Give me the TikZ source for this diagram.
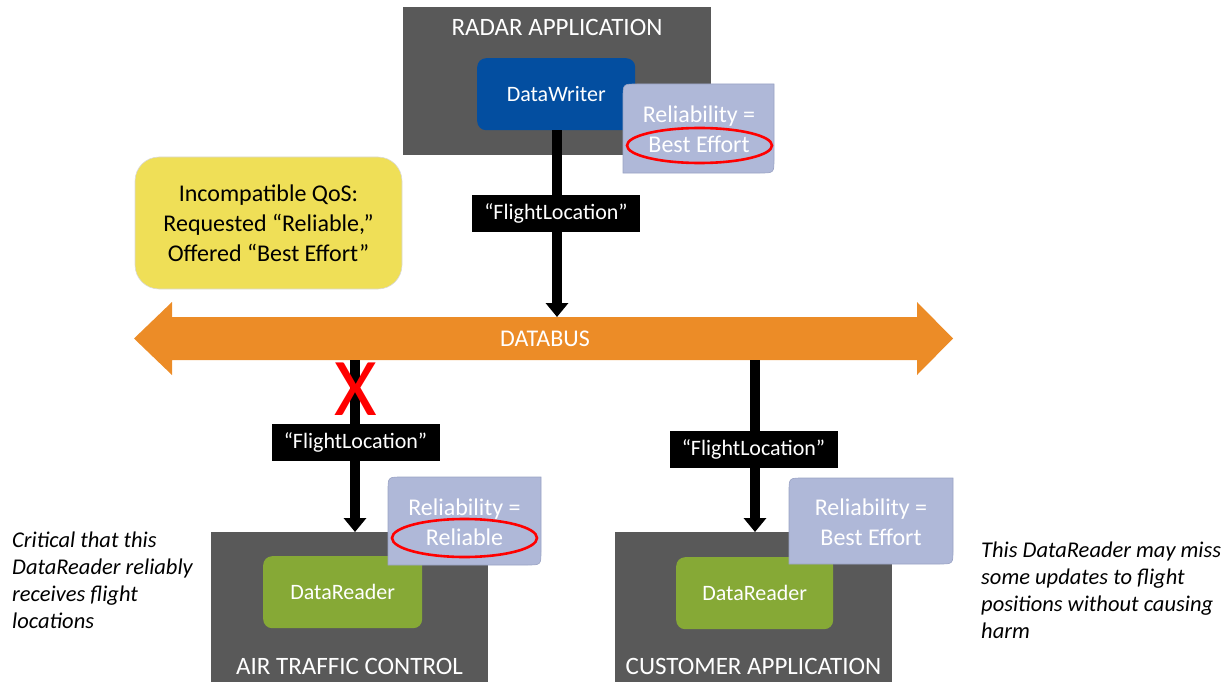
\documentclass[tikz,border=0pt]{standalone}
\usepackage{fontspec}
\setmainfont{Carlito}
\usetikzlibrary{arrows.meta,shapes.geometric}
\definecolor{panelgray}{HTML}{595959}
\definecolor{dwblue}{HTML}{034EA0}
\definecolor{relblue}{HTML}{AFB8D8}
\definecolor{relline}{HTML}{9AA3C4}
\definecolor{drgreen}{HTML}{86A936}
\definecolor{busorange}{HTML}{EC8C27}
\definecolor{noteyellow}{HTML}{EFDF57}
\definecolor{markred}{HTML}{FF0000}
\begin{document}
\begin{tikzpicture}[x=1pt,y=-1pt,
  panel/.style={fill=panelgray, draw=none, anchor=north west, inner sep=0pt},
  paneltitle/.style={text=white, inner sep=0pt, font=\fontsize{25}{29}\selectfont},
  endpoint/.style={rounded corners=9pt, draw=none, inner sep=0pt, text=white,
                   font=\fontsize{22}{26}\selectfont, anchor=north west},
  relbox/.style={fill=relblue, draw=relline, line width=0.6pt},
  reltext/.style={text=white, align=center, inner sep=0pt, font=\fontsize{24}{30}\selectfont},
  oval/.style={ellipse, draw=markred, line width=2.6pt, inner sep=0pt},
  topic/.style={fill=black, text=white, inner sep=0pt, minimum width=168pt,
                minimum height=37pt, font=\fontsize{22}{26}\selectfont},
  flow/.style={draw=black, line width=10pt, -{Triangle[width=22pt,length=14pt]}},
  note/.style={align=left, inner sep=0pt, anchor=north west,
               font=\fontsize{22.5}{27}\selectfont\itshape}
]
\useasboundingbox (0,0) rectangle (1226,682);

% ---------- panels ----------
\node[panel, minimum width=308pt, minimum height=148pt] (radar) at (403,7) {};
\node[paneltitle] (radart) at (557,27.5) {RADAR APPLICATION};
\node[panel, minimum width=277pt, minimum height=150pt] (atc) at (211,532) {};
\node[paneltitle] (atct) at (349.5,666.5) {AIR TRAFFIC CONTROL};
\node[panel, minimum width=277pt, minimum height=150pt] (cust) at (615,532) {};
\node[paneltitle] (custt) at (753.5,666.5) {CUSTOMER APPLICATION};

% ---------- endpoints ----------
\node[endpoint, fill=dwblue, minimum width=158pt, minimum height=72pt] (dw) at (477,58) {DataWriter};
\node[endpoint, fill=drgreen, minimum width=159pt, minimum height=72pt] (dr1) at (263,556) {DataReader};
\node[endpoint, fill=drgreen, minimum width=157pt, minimum height=72pt] (dr2) at (676,557) {DataReader};

% ---------- databus ----------
\fill[busorange] (134,338.5) -- (172,302) -- (172,317) -- (917,317) -- (917,302)
  -- (953,338.5) -- (917,375) -- (917,360) -- (172,360) -- (172,375) -- cycle;
\node[text=white, inner sep=0pt, font=\fontsize{24}{28}\selectfont] (bus) at (545,339) {DATABUS};
\coordinate (busTop) at (557,317);
\coordinate (busBotL) at (355,360);
\coordinate (busBotR) at (755,360);

% ---------- connectors ----------
\draw[flow] (dw.south -| busTop) -- (busTop);
\draw[flow] (busBotL) -- (busBotL |- atc.north);
\draw[flow] (busBotR) -- (busBotR |- cust.north);

\node[topic] (t1) at (556,213.5) {“FlightLocation”};
\node[topic] (t2) at (355.5,442) {“FlightLocation”};
\node[topic] (t3) at (753.5,449) {“FlightLocation”};

\node[text=markred, inner sep=0pt, font=\fontsize{82}{82}\selectfont] (xmark) at (355.5,389) {X};

% ---------- reliability boxes ----------
\path[relbox] (623,173) -- (623,98) .. controls (623,84) .. (637,84) -- (774,84)
  -- (774,159) .. controls (774,173) .. (760,173) -- cycle;
\node[reltext] (rel1) at (699,129) {Reliability =\\Best Effort};
\node[oval, minimum width=145pt, minimum height=35pt] (ov1) at (699.5,145.5) {};

\path[relbox] (388,565) -- (388,491) .. controls (388,477) .. (402,477) -- (541,477)
  -- (541,551) .. controls (541,565) .. (527,565) -- cycle;
\node[reltext] (rel2) at (464.5,522) {Reliability =\\Reliable};
\node[oval, minimum width=145pt, minimum height=38pt] (ov2) at (464.5,538) {};

\path[relbox] (789,564) -- (789,492) .. controls (789,478) .. (803,478) -- (953,478)
  -- (953,550) .. controls (953,564) .. (939,564) -- cycle;
\node[reltext] (rel3) at (871,522) {Reliability =\\Best Effort};

% ---------- yellow note ----------
\node[fill=noteyellow, draw=black!15, line width=0.6pt, rounded corners=24pt,
      minimum width=267pt, minimum height=132pt, inner sep=0pt, align=center,
      font=\fontsize{24}{30}\selectfont] (qos) at (268.5,223)
  {Incompatible QoS:\\Requested “Reliable,”\\Offered “Best Effort”};

% ---------- notes ----------
\node[note] (n1) at (12,532) {Critical that this\\DataReader reliably\\receives flight\\locations};
\node[note] (n2) at (981,542) {This DataReader may miss\\some updates to flight\\positions without causing\\harm};
\end{tikzpicture}
\end{document}
